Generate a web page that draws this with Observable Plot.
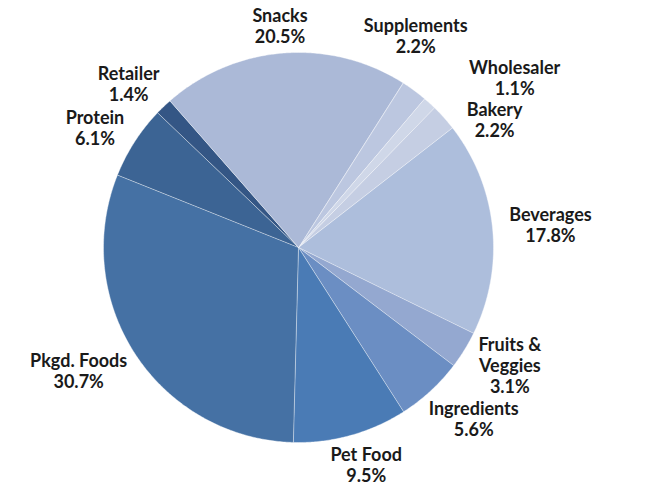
<!DOCTYPE html>
<html><head><meta charset="utf-8">
<script src="https://cdn.jsdelivr.net/npm/d3@7"></script>
<script src="https://cdn.jsdelivr.net/npm/@observablehq/plot@0.6"></script>
<style>body{margin:0;background:#fff}#chart{width:665px;height:486px}</style>
</head><body><div id="chart"></div>
<script>
const categories = ["Supplements","Wholesaler","Bakery","Beverages","Fruits &\nVeggies","Ingredients","Pet Food","Pkgd. Foods","Protein","Retailer","Snacks"];
const shares = [2.2,1.1,2.2,17.8,3.1,5.6,9.5,30.7,6.1,1.4,20.5];
const shareLabels = ["2.2%","1.1%","2.2%","17.8%","3.1%","5.6%","9.5%","30.7%","6.1%","1.4%","20.5%"];
const colors = ["#bcc7e0","#cfd7e8","#c5cee3","#adbedc","#94a8d0","#6b8ec3","#4a7bb5","#4571a4","#3c6494","#345685","#abb9d7"];

const W = 665, H = 486;
const R = 195, CX = 298, CY = 247; // pie radius and centre in pixels
const start = 32.4 * Math.PI / 180;
const FONT_SIZE = 18, LH = 21;

const arcs = d3.pie().sort(null).value(d => d).startAngle(start).endAngle(start + 2 * Math.PI)(shares);

const features = arcs.map((a, i) => {
  const ring = [[0, 0]];
  const n = Math.max(2, Math.ceil((a.endAngle - a.startAngle) / (Math.PI / 360)));
  for (let k = 0; k <= n; k++) {
    const t = a.startAngle + (a.endAngle - a.startAngle) * k / n;
    ring.push([Math.sin(t), -Math.cos(t)]);
  }
  ring.push([0, 0]);
  return {type: "Feature", properties: {category: categories[i]}, geometry: {type: "Polygon", coordinates: [ring]}};
});

// label placement (pixels), then resolve collisions
const ctx = document.createElement("canvas").getContext("2d");
ctx.font = `bold ${FONT_SIZE}px Lato`;
const gx = 17, gy = 6;
const L = arcs.map((a, i) => {
  const text = categories[i] + "\n" + shareLabels[i];
  const lines = text.split("\n");
  const w = Math.max(...lines.map(l => ctx.measureText(l).width));
  const h = lines.length * LH;
  const m = (a.startAngle + a.endAngle) / 2;
  const s = Math.sin(m), c = -Math.cos(m);
  return {text, w, h, x: CX + R * s + s * (w / 2 + gx), y: CY + R * c + c * (h / 2 + gy)};
});
const overlap = (p, q) => {
  const ox = Math.min(p.x + p.w / 2, q.x + q.w / 2) - Math.max(p.x - p.w / 2, q.x - q.w / 2) + 2;
  const oy = Math.min(p.y + p.h / 2, q.y + q.h / 2) - Math.max(p.y - p.h / 2, q.y - q.h / 2);
  return ox > 0 && oy > 0;
};
for (let it = 0; it < 2000; it++) {
  let any = false;
  for (let i = 0; i < L.length; i++) for (let j = i + 1; j < L.length; j++) {
    const p = L[i], q = L[j];
    if (!overlap(p, q)) continue;
    any = true;
    let dx = q.x - p.x, dy = q.y - p.y;
    const d = Math.hypot(dx, dy) || 1;
    dx /= d; dy /= d;
    p.x -= dx * 0.5; p.y -= dy * 0.5;
    q.x += dx * 0.5; q.y += dy * 0.5;
  }
  for (const p of L) {
    const nx = Math.max(p.x - p.w / 2, Math.min(CX, p.x + p.w / 2));
    const ny = Math.max(p.y - p.h / 2, Math.min(CY, p.y + p.h / 2));
    if (Math.hypot(nx - CX, ny - CY) < R + 4) {
      any = true;
      const dx = p.x - CX, dy = p.y - CY, d = Math.hypot(dx, dy);
      p.x += dx / d * 0.5; p.y += dy / d * 0.5;
    }
  }
  if (!any) break;
}
const labels = L.map(p => ({x: (p.x - CX) / R, y: (p.y - CY) / R, text: p.text}));

const chart = Plot.plot({
  width: W, height: H,
  margin: 0,
  projection: {type: "identity", domain: {type: "MultiPoint", coordinates: [[-CX / R, -CY / R], [(W - CX) / R, (H - CY) / R]]}},
  color: {domain: categories, range: colors},
  style: {fontFamily: "Lato, 'Open Sans', sans-serif", background: "#fff", overflow: "visible"},
  marks: [
    Plot.geo(features, {fill: d => d.properties.category, stroke: "#ffffff", strokeWidth: 0.8, strokeOpacity: 0.5}),
    Plot.text(labels, {x: "x", y: "y", text: "text", fontSize: FONT_SIZE, fontWeight: "bold", fill: "#1a1a1a", textAnchor: "middle", lineAnchor: "middle", lineHeight: LH / FONT_SIZE})
  ]
});
document.getElementById("chart").appendChild(chart);
</script>
</body></html>
